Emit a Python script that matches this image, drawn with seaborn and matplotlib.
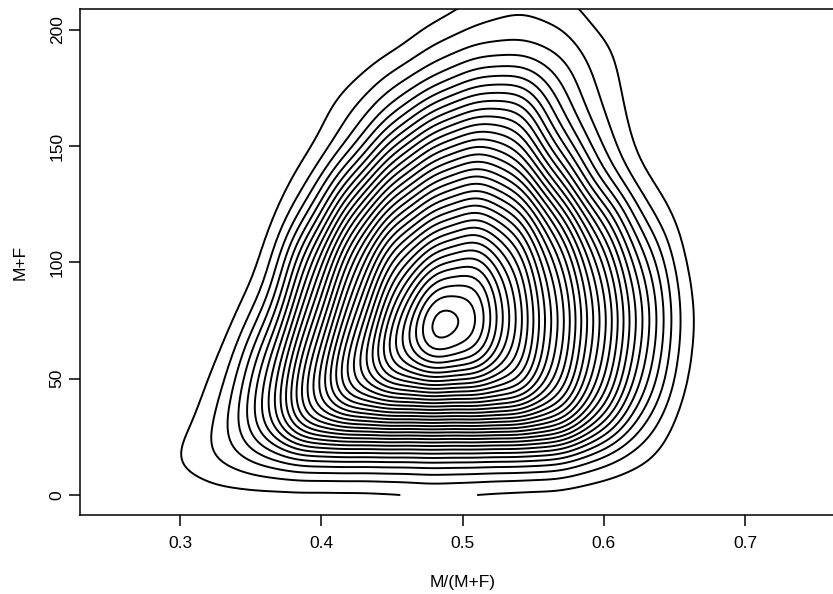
import numpy as np
import pandas as pd
import matplotlib
matplotlib.use("Agg")
import matplotlib.pyplot as plt
import seaborn as sns
from seaborn._statistics import KDE

# Binned counts: M/(M+F) columns, one list per M+F row
ratio_bins = [0.30, 0.33, 0.36, 0.39, 0.42, 0.45, 0.48, 0.51, 0.54, 0.57, 0.60, 0.63, 0.66]
total_bins = [0, 15, 30, 45, 60, 75, 90, 105, 120, 135, 150, 165, 180, 195, 210]

row_000 = [0, 0.2, 0, 0, 0, 0.1, 0.5, 0.2, 0, 0, 0, 0, 0]
row_015 = [1.3, 2.0, 2.6, 2.6, 2.6, 2.6, 2.7, 2.6, 2.5, 2.4, 1.3, 0.8, 0]
row_030 = [0.3, 2.0, 6.3, 13.3, 13.3, 13.3, 13.3, 13.3, 13.3, 13.0, 7.0, 2.0, 0]
row_045 = [0, 1.3, 6.0, 13.2, 20.3, 22.1, 22.1, 22.1, 22.0, 16.0, 10.0, 4.0, 0.2]
row_060 = [0, 0.5, 4.9, 12.0, 19.1, 26.3, 30.5, 29.0, 23.0, 17.0, 11.0, 5.0, 0.4]
row_075 = [0, 0, 2.6, 10.1, 17.2, 24.4, 32.5, 30.0, 23.6, 17.6, 11.6, 5.6, 0.5]
row_090 = [0, 0, 0.8, 8.2, 15.3, 22.5, 28.5, 29.0, 23.0, 17.0, 11.0, 5.0, 0.3]
row_105 = [0, 0, 0.2, 6.3, 13.4, 20.1, 23.7, 25.6, 21.6, 15.6, 9.6, 3.6, 0]
row_120 = [0, 0, 0, 2.7, 10.3, 15.9, 19.5, 21.4, 19.0, 13.0, 7.0, 1.5, 0]
row_135 = [0, 0, 0, 1.0, 6.2, 11.7, 15.3, 17.3, 15.0, 9.0, 3.0, 0.5, 0]
row_150 = [0, 0, 0, 0.4, 2.0, 7.6, 11.2, 13.1, 11.6, 5.6, 2.0, 0.1, 0]
row_165 = [0, 0, 0, 0, 1.7, 3.4, 7.0, 8.9, 9.2, 3.6, 1.5, 0, 0]
row_180 = [0, 0, 0, 0, 0.3, 2.0, 2.8, 4.8, 5.1, 3.0, 1.2, 0, 0]
row_195 = [0, 0, 0, 0, 0, 0, 1.7, 2.0, 2.0, 2.0, 0.9, 0, 0]
row_210 = [0, 0, 0, 0, 0, 0, 0, 1.2, 2.0, 1.3, 0, 0, 0]

rows = [row_000, row_015, row_030, row_045, row_060, row_075, row_090, row_105,
        row_120, row_135, row_150, row_165, row_180, row_195, row_210]

# long table for seaborn
recs = []
for t, row in zip(total_bins, rows):
    for r, w in zip(ratio_bins, row):
        if w > 0:
            recs.append((r, t, w))
df = pd.DataFrame(recs, columns=["ratio", "total", "w"])

# smoothing: about 11 units on the M+F axis
sd_y = np.sqrt(np.cov(df["total"], aweights=df["w"]))
kde_kws = dict(bw_method=11 / sd_y, gridsize=200, cut=3, clip=((None, None), (0, None)))

# contours at equal density steps
kde = KDE(**kde_kws)
density, support = kde(df["ratio"], df["total"], weights=df["w"])
unit = df["w"].sum() * (ratio_bins[1] - ratio_bins[0]) * (total_bins[1] - total_bins[0])
vals = np.sort(density.ravel())[::-1]
step = 0.85
props = []
for k in range(1, 80):
    d = k * step / unit
    if d >= vals[0]:
        break
    props.append(1 - vals[vals >= d].sum() / vals.sum())
props = sorted(set(props))

sns.set_style("ticks")
plt.rcParams["font.family"] = ["Liberation Sans", "DejaVu Sans"]
plt.rcParams["text.color"] = "black"
plt.rcParams["axes.labelcolor"] = "black"
plt.rcParams["xtick.color"] = "black"
plt.rcParams["ytick.color"] = "black"
plt.rcParams["axes.edgecolor"] = "black"

fig = plt.figure(figsize=(8.33, 5.94), dpi=100)
ax = fig.add_axes([80 / 833, 79 / 594, 765 / 833, 506 / 594])

sns.kdeplot(data=df, x="ratio", y="total", weights="w", levels=props,
            color="black", linewidths=1.4, ax=ax, **kde_kws)

ax.set_xlim(0.2292, 0.7708)
ax.set_ylim(-8.6, 209.0)
ax.set_xticks([0.3, 0.4, 0.5, 0.6, 0.7])
ax.set_yticks([0, 50, 100, 150, 200])
ax.set_xticklabels(["0.3", "0.4", "0.5", "0.6", "0.7"])
ax.set_yticklabels(["0", "50", "100", "150", "200"])

for s in ax.spines.values():
    s.set_visible(True)
    s.set_linewidth(1.1)

ax.tick_params(direction="out", length=8, width=1.1, labelsize=12.5)
ax.tick_params(axis="x", pad=7)
ax.tick_params(axis="y", pad=3, labelrotation=90)
for lab in ax.get_yticklabels():
    lab.set_va("center")

ax.set_xlabel("M/(M+F)", fontsize=12.5)
ax.set_ylabel("M+F", fontsize=12.5)
ax.xaxis.set_label_coords(0.5, (515 - 583) / 506)
ax.yaxis.set_label_coords((20 - 80) / 765, 0.5)
ax.xaxis.label.set_va("center")
ax.yaxis.label.set_va("center")
ax.yaxis.label.set_ha("center")

fig.savefig("out.png", dpi=100)
